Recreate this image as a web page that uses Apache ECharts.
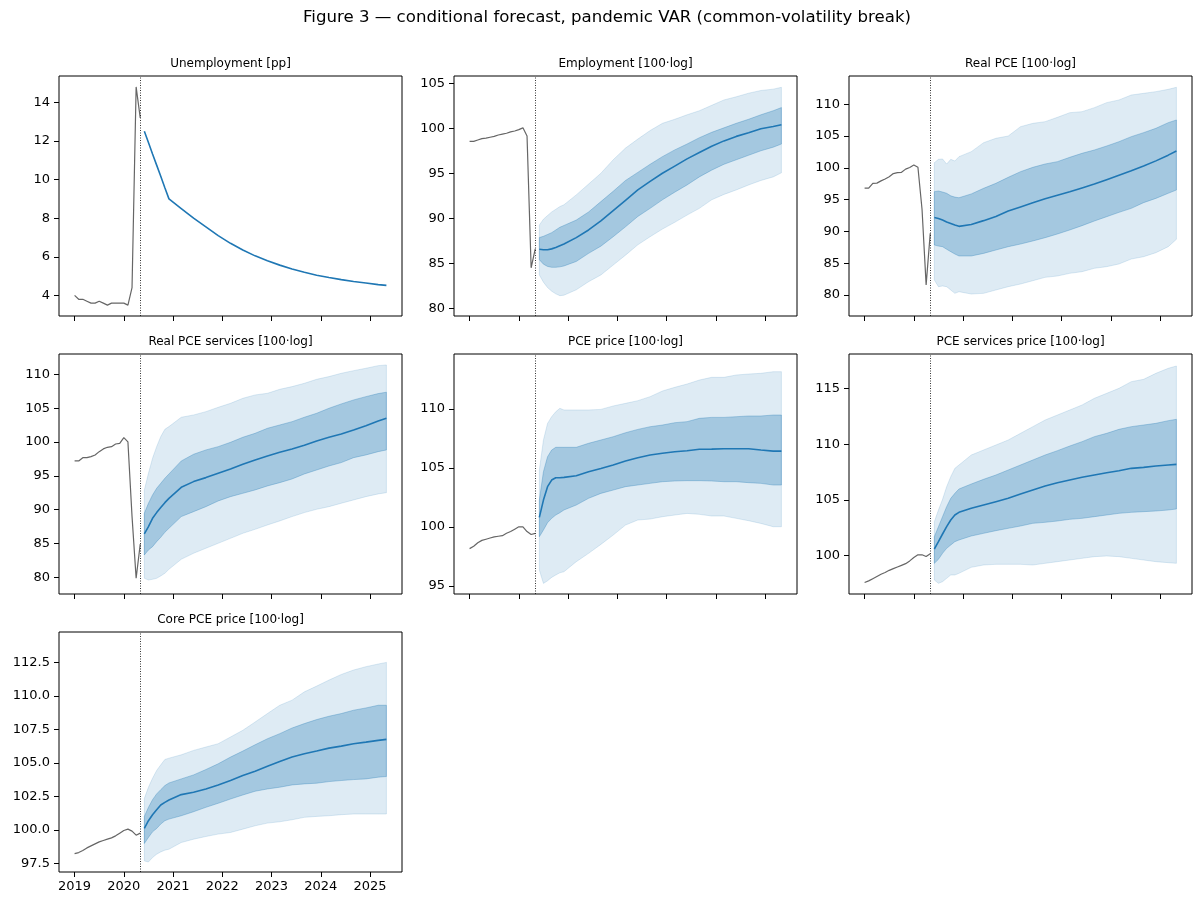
<!DOCTYPE html>
<html><head><meta charset="utf-8">
<script src="https://cdn.jsdelivr.net/npm/echarts@6/dist/echarts.min.js"></script>
<style>html,body{margin:0;padding:0;background:#fff}#c{width:1203px;height:905px}</style>
</head><body><div id="c"></div>
<script>
// ---------- data ----------
const figTitle = 'Figure 3 — conditional forecast, pandemic VAR (common-volatility break)';
const histDates = ['2019-01','2019-02','2019-03','2019-04','2019-05','2019-06','2019-07','2019-08','2019-09','2019-10','2019-11','2019-12','2020-01','2020-02','2020-03','2020-04','2020-05'];
const fcDates = ['2020-06','2020-07','2020-08','2020-09','2020-10','2020-11','2020-12','2021-03','2021-06','2021-09','2021-12','2022-03','2022-06','2022-09','2022-12','2023-03','2023-06','2023-09','2023-12','2024-03','2024-06','2024-09','2024-12','2025-03','2025-05'];
const xTickYears = [2019,2020,2021,2022,2023,2024,2025];

const panelTitles = ['Unemployment [pp]','Employment [100·log]','Real PCE [100·log]','Real PCE services [100·log]','PCE price [100·log]','PCE services price [100·log]','Core PCE price [100·log]'];

// Unemployment
const unempHist = [4.0,3.8,3.8,3.7,3.6,3.6,3.7,3.6,3.5,3.6,3.6,3.6,3.6,3.5,4.4,14.8,13.2];
const unempMed  = [12.5,11.92,11.33,10.75,10.17,9.58,9.0,8.5,8.0,7.55,7.1,6.7,6.35,6.05,5.8,5.57,5.37,5.2,5.05,4.93,4.82,4.72,4.64,4.56,4.52];
const unempTicks = [4,6,8,10,12,14];

// Employment
const emplHist = [98.55,98.55,98.7,98.85,98.9,99.0,99.1,99.25,99.35,99.45,99.6,99.7,99.85,100.05,99.15,84.5,86.6];
const emplMed  = [86.55,86.5,86.5,86.6,86.75,86.95,87.15,87.85,88.7,89.7,90.85,92.0,93.15,94.1,95.0,95.8,96.6,97.3,98.0,98.6,99.1,99.5,99.95,100.2,100.4];
const emplHi68 = [87.85,88.0,88.2,88.4,88.7,89.0,89.2,89.8,90.7,91.85,93.0,94.2,95.1,96.0,96.85,97.6,98.25,98.95,99.55,100.05,100.55,101.0,101.5,101.95,102.3];
const emplLo68 = [85.4,84.9,84.65,84.55,84.55,84.6,84.7,85.2,86.1,86.9,87.95,89.05,90.2,91.1,92.05,92.9,93.7,94.6,95.35,96.0,96.5,97.0,97.5,97.9,98.25];
const emplHi95 = [89.25,89.9,90.3,90.7,91.0,91.3,91.5,92.6,93.8,95.0,96.5,97.8,98.8,99.75,100.55,101.0,101.5,101.95,102.55,103.15,103.5,103.9,104.2,104.35,104.55];
const emplLo95 = [83.7,82.9,82.3,81.9,81.6,81.4,81.45,82.05,82.95,83.7,84.8,85.9,87.05,87.95,88.8,89.55,90.35,91.1,92.05,92.65,93.15,93.7,94.2,94.6,95.05];
const emplTicks = [80,85,90,95,100,105];

// Real PCE
const rpceHist = [96.8,96.8,97.55,97.6,97.95,98.25,98.6,99.1,99.25,99.3,99.8,100.05,100.45,100.1,93.5,81.6,89.7];
const rpceMed  = [92.2,92.05,91.8,91.5,91.25,91.0,90.8,91.1,91.7,92.35,93.2,93.85,94.5,95.15,95.7,96.25,96.85,97.45,98.15,98.85,99.55,100.3,101.1,102.0,102.65];
const rpceHi68 = [96.26,96.36,96.2,96.0,95.6,95.4,95.3,95.9,96.78,97.57,98.51,99.4,100.08,100.61,100.98,101.66,102.29,102.81,103.44,104.12,104.91,105.54,106.22,107.11,107.53];
const rpceLo68 = [87.87,87.7,87.6,87.2,86.82,86.45,86.14,86.14,86.55,87.08,87.6,88.02,88.5,89.02,89.6,90.23,90.91,91.64,92.32,93.0,93.63,94.53,95.2,96.0,96.52];
const rpceHi95 = [100.82,101.34,101.4,100.6,101.34,101.08,101.76,102.55,103.96,104.65,105.01,106.48,107.0,107.27,107.95,108.68,108.84,109.47,110.26,110.68,111.46,111.72,111.99,112.35,112.67];
const rpceLo95 = [82.36,81.31,81.42,81.31,80.79,80.26,80.52,80.16,80.26,80.79,81.31,81.73,82.25,82.78,82.99,83.41,83.67,84.2,84.46,84.88,85.66,86.03,86.66,87.6,88.76];
const rpceTicks = [80,85,90,95,100,105,110];

// Real PCE services
const rsvcHist = [97.19,97.19,97.68,97.68,97.83,98.08,98.57,98.97,99.21,99.31,99.7,99.8,100.64,100.0,89.0,79.85,84.9];
const rsvcMed  = [86.4,87.49,88.72,89.56,90.3,91.03,91.67,93.3,94.14,94.73,95.37,96.01,96.7,97.34,97.93,98.47,98.97,99.51,100.15,100.69,101.18,101.77,102.41,103.1,103.5];
const rsvcHi68 = [89.46,90.94,92.17,93.15,93.89,94.63,95.27,97.19,98.18,98.82,99.31,99.95,100.69,101.28,102.02,102.51,103.0,103.65,104.24,104.98,105.62,106.21,106.7,107.15,107.35];
const rsvcLo68 = [83.3,84.04,84.53,85.27,85.91,86.65,87.24,88.97,89.7,90.44,91.28,91.92,92.41,92.91,93.5,93.99,94.53,95.27,95.86,96.45,96.95,97.68,98.08,98.57,98.82];
const rsvcHi95 = [92.91,95.37,97.59,99.31,100.79,101.87,102.27,103.65,103.99,104.48,105.12,105.71,106.45,106.95,107.19,107.78,108.18,108.67,109.26,109.66,110.15,110.54,110.89,111.28,111.38];
const rsvcLo95 = [79.85,79.6,79.7,79.85,80.2,80.59,81.18,82.66,83.55,84.29,85.02,85.76,86.5,87.09,87.73,88.33,88.97,89.56,90.05,90.44,90.94,91.43,91.92,92.32,92.51];
const rsvcTicks = [80,85,90,95,100,105,110];

// PCE price
const ppceHist = [98.15,98.35,98.65,98.85,98.95,99.05,99.15,99.2,99.25,99.45,99.6,99.8,100.0,100.0,99.6,99.35,99.45];
const ppceMed  = [100.8,102.27,103.41,103.97,104.17,104.17,104.2,104.34,104.68,104.96,105.25,105.59,105.87,106.1,106.24,106.38,106.46,106.58,106.6,106.63,106.63,106.63,106.52,106.43,106.43];
const ppceHi68 = [102.27,104.68,105.95,106.52,106.75,106.75,106.75,106.75,107.09,107.37,107.65,107.99,108.27,108.5,108.64,108.84,108.93,109.21,109.29,109.29,109.35,109.41,109.41,109.49,109.49];
const ppceLo68 = [99.16,99.73,100.35,100.72,101.0,101.2,101.43,101.85,102.42,102.84,103.12,103.41,103.55,103.69,103.83,103.89,103.92,103.92,103.89,103.83,103.83,103.75,103.69,103.55,103.55];
const ppceHi95 = [104.82,107.37,108.78,109.35,109.77,110.06,109.92,109.92,109.92,109.97,110.26,110.48,110.71,111.05,111.53,111.84,112.12,112.46,112.69,112.69,112.89,112.97,113.03,113.17,113.17];
const ppceLo95 = [96.33,95.2,95.42,95.71,95.91,96.1,96.19,97.04,97.75,98.51,99.3,100.15,100.58,100.66,100.86,101.0,101.14,101.06,100.92,100.92,100.72,100.52,100.29,100.01,100.01];
const ppceTicks = [95,100,105,110];

// PCE services price
const psvcHist = [97.55,97.7,97.9,98.1,98.3,98.45,98.65,98.8,98.95,99.1,99.25,99.5,99.8,100.05,100.05,99.9,100.15];
const psvcMed  = [100.57,101.23,101.92,102.58,103.18,103.63,103.87,104.23,104.53,104.83,105.13,105.52,105.88,106.24,106.54,106.78,107.02,107.23,107.44,107.62,107.83,107.92,108.04,108.13,108.19];
const psvcHi68 = [101.68,102.58,103.48,104.38,105.13,105.58,105.97,106.42,106.84,107.23,107.68,108.13,108.58,109.03,109.42,109.84,110.23,110.68,110.98,111.34,111.58,111.73,111.88,112.12,112.24];
const psvcLo68 = [99.28,99.64,100.18,100.63,100.93,101.23,101.38,101.74,101.98,102.22,102.43,102.64,102.88,102.97,103.09,103.24,103.33,103.48,103.63,103.78,103.87,103.93,103.99,104.08,104.17];
const psvcHi95 = [103.03,104.08,105.04,106.18,107.08,107.83,108.13,109.03,109.48,109.93,110.38,110.98,111.58,112.18,112.63,113.08,113.53,114.13,114.58,115.03,115.63,115.84,116.38,116.83,117.04];
const psvcLo95 = [97.78,97.48,97.63,97.93,98.23,98.23,98.38,98.92,99.13,99.19,99.19,99.19,99.13,99.28,99.43,99.58,99.73,99.88,99.94,99.88,99.73,99.58,99.43,99.34,99.28];
const psvcTicks = [100,105,110,115];

// Core PCE price
const corpHist = [98.22,98.3,98.45,98.65,98.8,98.95,99.1,99.2,99.3,99.4,99.55,99.75,99.95,100.05,99.9,99.6,99.75];
const corpMed  = [100.1,100.68,101.13,101.5,101.85,102.05,102.23,102.63,102.8,103.05,103.35,103.68,104.05,104.38,104.75,105.1,105.43,105.68,105.88,106.1,106.25,106.43,106.55,106.68,106.75];
const corpHi68 = [101.0,101.68,102.25,102.68,103.0,103.3,103.5,103.8,104.1,104.5,104.93,105.43,105.88,106.35,106.8,107.18,107.6,107.93,108.23,108.48,108.68,108.93,109.1,109.3,109.3];
const corpLo68 = [98.98,99.43,99.85,100.1,100.43,100.68,100.8,101.05,101.35,101.68,101.98,102.3,102.6,102.88,103.05,103.18,103.35,103.43,103.48,103.6,103.68,103.75,103.8,103.93,103.98];
const corpHi95 = [102.35,103.18,103.85,104.43,104.85,105.25,105.35,105.6,105.93,106.18,106.43,106.93,107.43,108.05,108.68,109.3,109.68,110.3,110.73,111.18,111.6,111.93,112.18,112.38,112.5];
const corpLo95 = [97.68,97.6,97.93,98.18,98.35,98.48,98.55,99.05,99.3,99.5,99.68,99.8,100.05,100.3,100.5,100.6,100.75,100.93,101.0,101.05,101.13,101.18,101.18,101.18,101.18];
const corpTicks = [97.5,100,102.5,105,107.5,110,112.5];

// ---------- build ----------
function toYear(s){ const p = s.split('-').map(Number); return p[0] + (p[1]-1)/12; }
const histX = histDates.map(toYear);
const fcX = fcDates.map(toYear);
const span = fcX[fcX.length-1] - histX[0];
const xMin = histX[0] - 0.05*span, xMax = fcX[fcX.length-1] + 0.05*span;

const panels = [
  {hist: unempHist, med: unempMed, bands: null, ticks: unempTicks, yMin: 2.935, yMax: 15.365, dec: 0},
  {hist: emplHist, med: emplMed, bands: [emplLo95, emplHi95, emplLo68, emplHi68], ticks: emplTicks, yMin: 79.14, yMax: 105.81, dec: 0},
  {hist: rpceHist, med: rpceMed, bands: [rpceLo95, rpceHi95, rpceLo68, rpceHi68], ticks: rpceTicks, yMin: 76.7, yMax: 114.45, dec: 0},
  {hist: rsvcHist, med: rsvcMed, bands: [rsvcLo95, rsvcHi95, rsvcLo68, rsvcHi68], ticks: rsvcTicks, yMin: 77.53, yMax: 113.0, dec: 0},
  {hist: ppceHist, med: ppceMed, bands: [ppceLo95, ppceHi95, ppceLo68, ppceHi68], ticks: ppceTicks, yMin: 94.3, yMax: 114.67, dec: 0},
  {hist: psvcHist, med: psvcMed, bands: [psvcLo95, psvcHi95, psvcLo68, psvcHi68], ticks: psvcTicks, yMin: 96.52, yMax: 118.12, dec: 0},
  {hist: corpHist, med: corpMed, bands: [corpLo95, corpHi95, corpLo68, corpHi68], ticks: corpTicks, yMin: 96.85, yMax: 114.77, dec: 1}
];

const FONT = 'DejaVu Sans';
const lefts = [59, 454, 849], tops = [76, 354, 632], W = 343, H = 240;
const grids = [], xAxes = [], yAxes = [], series = [], graphics = [];
const zip = (xs, ys) => xs.map((x, k) => [x, ys[k]]);

graphics.push({type:'text', x: 607, y: 18, style:{text: figTitle, font: '16.6px ' + FONT, fill:'#000', align:'center', verticalAlign:'middle', textAlign:'center', textVerticalAlign:'middle'}});

function bandSeries(i, lo, hi, fill, stroke, z) {
  const data = fcX.map((x, k) => [x, lo[k], hi[k]]);
  return {
    type: 'custom', xAxisIndex: i, yAxisIndex: i, silent: true, animation: false, z: z,
    data: data, encode: {x: 0, y: [1, 2]},
    renderItem: function (params, api) {
      if (params.dataIndex !== 0) return null;
      const pts = [];
      for (let k = 0; k < data.length; k++) pts.push(api.coord([data[k][0], data[k][2]]));
      for (let k = data.length - 1; k >= 0; k--) pts.push(api.coord([data[k][0], data[k][1]]));
      return {type: 'polygon', shape: {points: pts}, style: {fill: fill, stroke: stroke, lineWidth: 1}};
    }
  };
}

panels.forEach((p, i) => {
  const col = i % 3, row = Math.floor(i / 3);
  grids.push({left: lefts[col], top: tops[row], width: W, height: H, show: true, borderColor: '#000', borderWidth: 1, backgroundColor: 'rgba(0,0,0,0)', containLabel: false, outerBoundsMode: 'none'});
  graphics.push({type:'text', x: lefts[col] + W/2, y: tops[row] - 12, style:{text: panelTitles[i], font: '12px ' + FONT, fill:'#000', align:'center', verticalAlign:'middle', textAlign:'center', textVerticalAlign:'middle'}});
  xAxes.push({
    gridIndex: i, type: 'value', min: xMin, max: xMax,
    axisLine: {show: false}, splitLine: {show: false},
    axisTick: {show: true, length: 5, lineStyle: {color: '#000', width: 1}, customValues: xTickYears},
    axisLabel: {show: i === 6, customValues: xTickYears, fontFamily: FONT, fontSize: 13, color: '#000', margin: 8, formatter: v => String(Math.round(v))}
  });
  yAxes.push({
    gridIndex: i, type: 'value', min: p.yMin, max: p.yMax,
    axisLine: {show: false}, splitLine: {show: false},
    axisTick: {show: true, length: 5, lineStyle: {color: '#000', width: 1}, customValues: p.ticks},
    axisLabel: {show: true, customValues: p.ticks, fontFamily: FONT, fontSize: 13, color: '#000', margin: 9, formatter: v => Number(v).toFixed(p.dec)}
  });
  const base = {type: 'line', xAxisIndex: i, yAxisIndex: i, symbol: 'none', silent: true, animation: false};
  if (p.bands) {
    const [lo95, hi95, lo68, hi68] = p.bands;
    series.push(bandSeries(i, lo95, hi95, 'rgba(31,119,180,0.15)', 'rgba(31,119,180,0.15)', 1));
    series.push(bandSeries(i, lo68, hi68, 'rgba(31,119,180,0.30)', 'rgba(31,119,180,0.30)', 2));
  }
  series.push(Object.assign({}, base, {data: zip(fcX, p.med), lineStyle: {color: '#1f77b4', width: 1.6}, z: 4}));
  series.push(Object.assign({}, base, {
    data: zip(histX, p.hist), lineStyle: {color: '#666666', width: 1.2}, z: 3,
    markLine: {symbol: ['none', 'none'], silent: true, animation: false, label: {show: false},
      lineStyle: {color: '#000', type: [1, 1.5], width: 0.8},
      data: [{xAxis: histX[histX.length - 1]}]}
  }));
});

const chart = echarts.init(document.getElementById('c'), null, {renderer: 'canvas'});
chart.setOption({
  backgroundColor: '#fff',
  animation: false,
  grid: grids, xAxis: xAxes, yAxis: yAxes, series: series,
  graphic: graphics
});
</script>
</body></html>
